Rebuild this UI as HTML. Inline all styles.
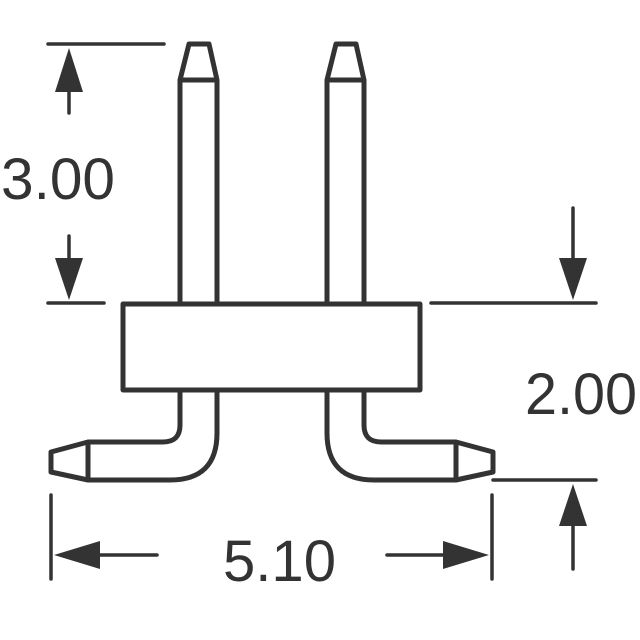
<!DOCTYPE html>
<html><head><meta charset="utf-8"><style>
html,body{margin:0;padding:0;background:#fff;}
svg{display:block;}
text{font-family:"Liberation Sans",Arial,sans-serif;fill:#333;}
</style></head><body>
<svg width="640" height="640" viewBox="0 0 640 640" xmlns="http://www.w3.org/2000/svg">
<g fill="none" stroke="#333" stroke-width="5" stroke-linejoin="round" stroke-linecap="round">
  <!-- body -->
  <rect x="123" y="304" width="297" height="86"/>
  <!-- upper pins -->
  <path d="M180 304 V80 L189 44 H209 L217 80 V304 M180 80 H217"/>
  <path d="M327 304 V80 L336 44 H356 L364 80 V304 M327 80 H364"/>
  <!-- lower left bent pin -->
  <path d="M180 390 V425 Q180 442 163 442 H88 L51 452 V472 L88 480 H170 Q217 480 217 433 V390 M88 442 V480"/>
  <!-- lower right bent pin -->
  <path d="M364 390 V425 Q364 442 381 442 H456 L493 452 V472 L456 480 H374 Q327 480 327 433 V390 M456 442 V480"/>
</g>
<g fill="none" stroke="#333" stroke-width="3.5" stroke-linecap="round">
  <!-- 3.00 dimension -->
  <line x1="48" y1="44" x2="164" y2="44"/>
  <line x1="48" y1="303" x2="104" y2="303"/>
  <line x1="69" y1="90" x2="69" y2="113"/>
  <line x1="69" y1="236" x2="69" y2="262"/>
  <!-- 2.00 dimension -->
  <line x1="431" y1="303" x2="596" y2="303"/>
  <line x1="493" y1="480" x2="596" y2="480"/>
  <line x1="573" y1="208" x2="573" y2="262"/>
  <line x1="573" y1="525" x2="573" y2="569"/>
  <!-- 5.10 dimension -->
  <line x1="51" y1="495" x2="51" y2="579"/>
  <line x1="492" y1="495" x2="492" y2="579"/>
  <line x1="95" y1="555" x2="157" y2="555"/>
  <line x1="387" y1="555" x2="448" y2="555"/>
</g>
<g fill="#333">
  <polygon points="69,48 55,92 83,92"/>
  <polygon points="69,300 55,258 83,258"/>
  <polygon points="573,300 559,258 587,258"/>
  <polygon points="573,484 559,526 587,526"/>
  <polygon points="54,555 100,541 100,569"/>
  <polygon points="489,555 443,541 443,569"/>
</g>
<text x="1" y="199" font-size="58" textLength="114" lengthAdjust="spacingAndGlyphs">3.00</text>
<text x="525" y="414" font-size="58" textLength="112" lengthAdjust="spacingAndGlyphs">2.00</text>
<text x="223" y="581" font-size="58" textLength="113" lengthAdjust="spacingAndGlyphs">5.10</text>
</svg>
</body></html>
